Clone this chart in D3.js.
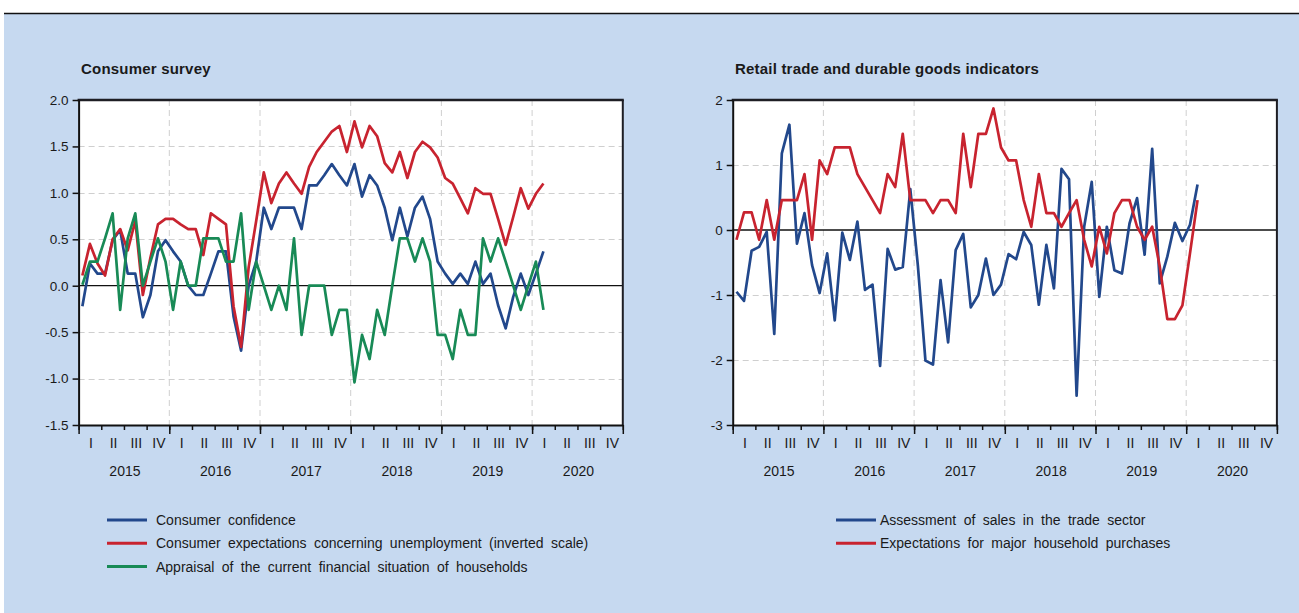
<!DOCTYPE html>
<html>
<head>
<meta charset="utf-8">
<script src="https://cdn.jsdelivr.net/npm/d3@7"></script>
<style>
  body { margin: 0; background: #ffffff; }
  svg text { font-family: "Liberation Sans", Arial, sans-serif; fill: #1a1a1a; }
</style>
</head>
<body>
<svg id="chart" width="1299" height="613"></svg>
<script>
// Monthly observations, January 2015 to February 2020
const years = [2015, 2016, 2017, 2018, 2019, 2020];
const quarterNames = ["I", "II", "III", "IV"];

// Consumer survey (standardised balances)
const consumerConfidence = [
  -0.22, 0.24, 0.13, 0.13, 0.49, 0.60, 0.13, 0.13, -0.34, -0.10,
  0.37, 0.49, 0.37, 0.26, 0.00, -0.10, -0.10, 0.13, 0.37, 0.37,
  -0.33, -0.70, 0.00, 0.26, 0.84, 0.61, 0.84, 0.84, 0.84, 0.61,
  1.08, 1.08, 1.19, 1.31, 1.19, 1.08, 1.31, 0.96, 1.19, 1.08,
  0.84, 0.49, 0.84, 0.53, 0.84, 0.96, 0.72, 0.26, 0.13, 0.02,
  0.13, 0.02, 0.26, 0.02, 0.13, -0.21, -0.46, -0.12, 0.13, -0.10,
  0.13, 0.37
];
const unemploymentExpectations = [
  0.11, 0.45, 0.24, 0.11, 0.50, 0.61, 0.38, 0.70, -0.10, 0.30,
  0.66, 0.72, 0.72, 0.66, 0.61, 0.61, 0.33, 0.78, 0.72, 0.66,
  -0.22, -0.66, 0.20, 0.70, 1.22, 0.89, 1.10, 1.22, 1.10, 0.99,
  1.28, 1.44, 1.55, 1.66, 1.72, 1.44, 1.77, 1.49, 1.72, 1.61,
  1.32, 1.22, 1.44, 1.16, 1.44, 1.55, 1.49, 1.38, 1.16, 1.10,
  0.94, 0.78, 1.05, 0.99, 0.99, 0.72, 0.44, 0.74, 1.05, 0.83,
  0.99, 1.10
];
const financialSituation = [
  0.01, 0.26, 0.26, 0.51, 0.78, -0.26, 0.51, 0.78, 0.00, 0.26,
  0.51, 0.26, -0.26, 0.26, 0.00, 0.00, 0.51, 0.51, 0.51, 0.26,
  0.26, 0.78, -0.26, 0.26, 0.00, -0.26, 0.00, -0.26, 0.51, -0.53,
  0.00, 0.00, 0.00, -0.53, -0.26, -0.26, -1.04, -0.53, -0.79, -0.26,
  -0.53, 0.00, 0.51, 0.51, 0.26, 0.51, 0.26, -0.53, -0.53, -0.79,
  -0.26, -0.53, -0.53, 0.51, 0.26, 0.51, 0.26, 0.00, -0.26, 0.00,
  0.26, -0.26
];

// Retail trade and durable goods indicators
const tradeSales = [
  -0.95, -1.09, -0.32, -0.26, -0.03, -1.60, 1.18, 1.62, -0.21, 0.26,
  -0.54, -0.97, -0.36, -1.39, -0.04, -0.46, 0.13, -0.92, -0.84, -2.09,
  -0.29, -0.61, -0.57, 0.63, -0.55, -2.01, -2.07, -0.77, -1.73, -0.31,
  -0.06, -1.19, -1.00, -0.44, -1.00, -0.84, -0.37, -0.45, -0.03, -0.23,
  -1.15, -0.23, -0.90, 0.94, 0.78, -2.55, 0.05, 0.74, -1.03, 0.05,
  -0.62, -0.67, 0.10, 0.49, -0.38, 1.25, -0.82, -0.41, 0.11, -0.17,
  0.08, 0.70
];
const majorPurchases = [
  -0.15, 0.27, 0.27, -0.15, 0.46, -0.15, 0.46, 0.46, 0.46, 0.86,
  -0.15, 1.07, 0.86, 1.27, 1.27, 1.27, 0.86, 0.66, 0.46, 0.26,
  0.86, 0.66, 1.48, 0.46, 0.46, 0.46, 0.26, 0.46, 0.46, 0.26,
  1.48, 0.66, 1.48, 1.48, 1.87, 1.27, 1.07, 1.07, 0.46, 0.05,
  0.86, 0.26, 0.26, 0.05, 0.26, 0.46, -0.15, -0.56, 0.05, -0.36,
  0.26, 0.46, 0.46, 0.05, -0.15, 0.05, -0.56, -1.37, -1.37, -1.16,
  -0.36, 0.46
];

const leftTicks = [-1.5, -1.0, -0.5, 0.0, 0.5, 1.0, 1.5, 2.0];
const rightTicks = [-3, -2, -1, 0, 1, 2];

const BLUE = "#22488c", RED = "#c8232f", GREEN = "#188a56";

// tick labels use a plain hyphen for negatives
const hyphen = f => d => f(d).replace("\u2212", "-");

const svg = d3.select("#chart");

// page backdrop
svg.append("rect").attr("x", 4).attr("y", 14).attr("width", 1295).attr("height", 599).attr("fill", "#c6d9f0");
svg.append("line").attr("x1", 4).attr("x2", 1299).attr("y1", 13.5).attr("y2", 13.5)
  .attr("stroke", "#111").attr("stroke-width", 1.5);

function panel(cfg) {
  const g = svg.append("g");
  const nSlots = years.length * 12;
  const x = d3.scaleLinear().domain([0, nSlots]).range([cfg.x0, cfg.x1]);
  const y = d3.scaleLinear().domain(cfg.domain).range([425, 100]);

  // plot background
  g.append("rect").attr("x", cfg.x0).attr("y", 100).attr("width", cfg.x1 - cfg.x0).attr("height", 325)
    .attr("fill", "#ffffff");

  // grid
  const grid = g.append("g").attr("stroke", "#cfcfcf").attr("stroke-width", 1).attr("stroke-dasharray", "6,4");
  grid.selectAll(".h").data(cfg.ticks.filter(t => t !== 0 && t !== cfg.domain[0] && t !== cfg.domain[1]))
    .join("line").attr("x1", cfg.x0).attr("x2", cfg.x1)
    .attr("y1", d => Math.round(y(d)) + 0.5).attr("y2", d => Math.round(y(d)) + 0.5);
  grid.selectAll(".v").data(d3.range(12, nSlots, 12))
    .join("line").attr("y1", 100).attr("y2", 425)
    .attr("x1", d => x(d)).attr("x2", d => x(d));

  // zero line
  g.append("line").attr("x1", cfg.x0).attr("x2", cfg.x1)
    .attr("y1", y(0)).attr("y2", y(0)).attr("stroke", "#111").attr("stroke-width", 1.3);

  // series
  const line = d3.line().x((d, i) => x(i + 0.5)).y(d => y(d));
  cfg.series.forEach(s => {
    g.append("path").datum(s.values).attr("d", line)
      .attr("fill", "none").attr("stroke", s.color).attr("stroke-width", 2.7)
      .attr("stroke-linejoin", "round");
  });

  // frame
  g.append("line").attr("x1", cfg.x0 - 1).attr("x2", cfg.x1 + 1).attr("y1", 100).attr("y2", 100)
    .attr("stroke", "#1e1e24").attr("stroke-width", 2.4);
  g.append("line").attr("x1", cfg.x1).attr("x2", cfg.x1).attr("y1", 100).attr("y2", 425)
    .attr("stroke", "#1e1e24").attr("stroke-width", 2);

  // y axis
  const ya = g.append("g").attr("transform", `translate(${cfg.x0},0)`)
    .call(d3.axisLeft(y).tickValues(cfg.ticks).tickFormat(cfg.fmt).tickSize(6).tickSizeOuter(0).tickPadding(4));
  ya.select(".domain").attr("stroke", "#111").attr("stroke-width", 2);
  ya.selectAll(".tick line").attr("stroke", "#111").attr("stroke-width", 1.5);
  ya.selectAll(".tick text").attr("font-size", 13.5).attr("font-family", "Liberation Sans, Arial, sans-serif")
    .attr("fill", "#1a1a1a");

  // x axis: quarter ticks and longer year ticks
  const xa = g.append("g").attr("transform", "translate(0,425)")
    .call(d3.axisBottom(x).tickValues(d3.range(0, nSlots + 1, 3)).tickFormat("").tickSize(5).tickSizeOuter(0));
  xa.select(".domain").attr("stroke", "#111").attr("stroke-width", 2);
  xa.selectAll(".tick line").attr("stroke", "#111").attr("stroke-width", 1.5);
  const xy = g.append("g").attr("transform", "translate(0,425)")
    .call(d3.axisBottom(x).tickValues(d3.range(0, nSlots + 1, 12)).tickFormat("").tickSize(9).tickSizeOuter(0));
  xy.select(".domain").remove();
  xy.selectAll(".tick line").attr("stroke", "#111").attr("stroke-width", 1.5);

  // quarter and year labels
  const quarters = d3.range(years.length * 4);
  g.selectAll(".ql").data(quarters).join("text")
    .attr("x", q => x(q * 3 + 1.5) + 1).attr("y", 448).attr("text-anchor", "middle").attr("font-size", 14)
    .text(q => quarterNames[q % 4]);
  g.selectAll(".yl").data(years).join("text")
    .attr("x", (yr, i) => x(i * 12 + 6) + 1).attr("y", 476).attr("text-anchor", "middle").attr("font-size", 14)
    .text(yr => yr);

  // title
  g.append("text").attr("x", cfg.titleX).attr("y", 74).attr("font-size", 15).attr("font-weight", "bold")
    .attr("letter-spacing", 0.2).text(cfg.title);

  // legend
  cfg.series.forEach((s, i) => {
    const ly = 520 + i * 23.3;
    g.append("line").attr("x1", cfg.legendX).attr("x2", cfg.legendX + 40).attr("y1", ly).attr("y2", ly)
      .attr("stroke", s.color).attr("stroke-width", 3);
    g.append("text").attr("x", cfg.legendTextX).attr("y", ly + 5).attr("font-size", 14)
      .attr("word-spacing", 3.5).text(s.name);
  });
}

panel({
  x0: 78.6, x1: 622.8, domain: [-1.5, 2.0], ticks: leftTicks, fmt: hyphen(d3.format(".1f")),
  title: "Consumer survey", titleX: 81, legendX: 107, legendTextX: 156,
  series: [
    { name: "Consumer confidence", values: consumerConfidence, color: BLUE },
    { name: "Consumer expectations concerning unemployment (inverted scale)", values: unemploymentExpectations, color: RED },
    { name: "Appraisal of the current financial situation of households", values: financialSituation, color: GREEN }
  ]
});

panel({
  x0: 732.7, x1: 1276.9, domain: [-3, 2], ticks: rightTicks, fmt: hyphen(d3.format("d")),
  title: "Retail trade and durable goods indicators", titleX: 735, legendX: 836, legendTextX: 880,
  series: [
    { name: "Assessment of sales in the trade sector", values: tradeSales, color: BLUE },
    { name: "Expectations for major household purchases", values: majorPurchases, color: RED }
  ]
});
</script>
</body>
</html>
